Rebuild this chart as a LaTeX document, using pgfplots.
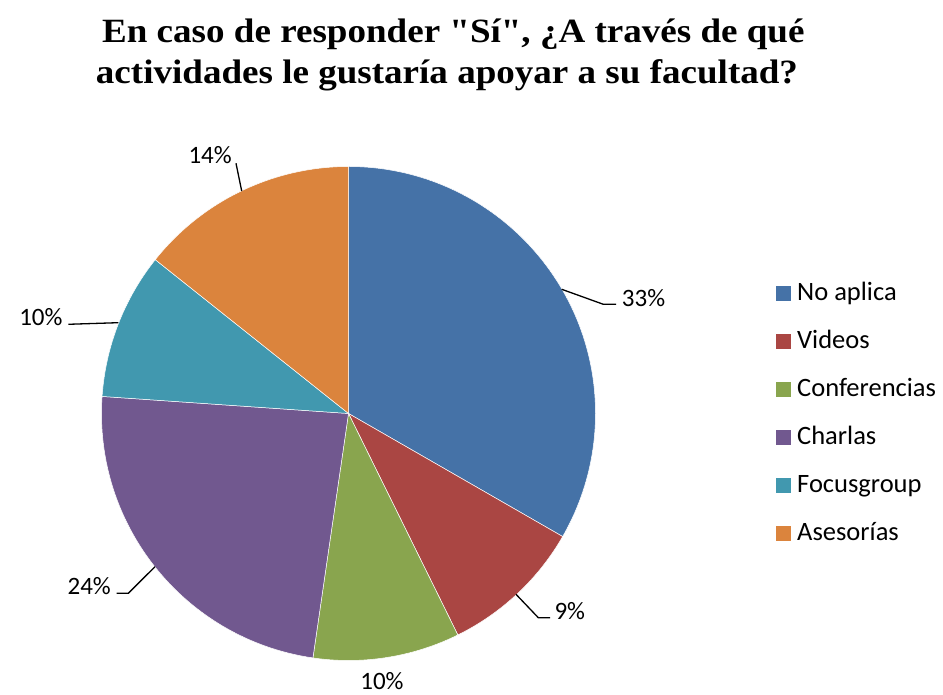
\documentclass[border=0pt]{standalone}
\usepackage{fontspec}
\setmainfont{Carlito}
\newfontfamily\titlefont{Liberation Serif}
\usepackage{pgfplots}
\usepackage{pgfplotstable}
\pgfplotsset{compat=1.18}

\definecolor{cNo}{HTML}{4572A7}
\definecolor{cVid}{HTML}{AA4643}
\definecolor{cConf}{HTML}{89A54E}
\definecolor{cCha}{HTML}{71588F}
\definecolor{cFoc}{HTML}{4198AF}
\definecolor{cAse}{HTML}{DB843D}

\pgfplotstableread[col sep=comma]{
label,value,color
No aplica,33.3,cNo
Videos,9.4,cVid
Conferencias,9.6,cConf
Charlas,23.8,cCha
Focusgroup,9.6,cFoc
Asesorías,14.3,cAse
}\piedata

\begin{document}
\begin{tikzpicture}
\useasboundingbox (0,0) rectangle (943pt,695pt);
\begin{axis}[
  at={(0,0)}, anchor=south west,
  scale only axis, width=943pt, height=695pt,
  xmin=0, xmax=943, ymin=0, ymax=695,
  hide axis, clip=false]
\pgfplotsextra{
  \pgfplotstablegetrowsof{\piedata}
  \pgfmathtruncatemacro\lastrow{\pgfplotsretval-1}
  \xdef\cumsum{0}
  \foreach \i in {0,...,\lastrow}{
    \pgfplotstablegetelem{\i}{value}\of\piedata \let\val\pgfplotsretval
    \pgfplotstablegetelem{\i}{color}\of\piedata \let\col\pgfplotsretval
    \pgfplotstablegetelem{\i}{label}\of\piedata \let\lab\pgfplotsretval
    \pgfmathsetmacro\sa{90-3.6*\cumsum}
    \pgfmathsetmacro\newcum{\cumsum+\val}
    \xdef\cumsum{\newcum}
    \pgfmathsetmacro\ea{90-3.6*\cumsum}
    \fill[fill=\col, draw=white, line width=0.5pt]
      (axis cs:348.5,281.5) -- ([shift={(\sa:247pt)}]axis cs:348.5,281.5)
      arc[start angle=\sa, end angle=\ea, radius=247pt] -- cycle;
    % legend
    \pgfmathsetmacro\ly{695-300.7-48*\i}
    \fill[\col] (axis cs:776,\ly) rectangle (axis cs:791,\ly+15);
    \node[anchor=base west, inner sep=0pt, font=\fontsize{26.5}{31}\selectfont]
      at (axis cs:797,\ly) {\lab};
  }
  % leader lines
  \draw[line width=1.3pt] (axis cs:561.7,405.7) -- (axis cs:603.3,390.7) -- (axis cs:616,390.7);
  \draw[line width=1.3pt] (axis cs:516,100.7) -- (axis cs:538.3,77.3) -- (axis cs:550,77.3);
  \draw[line width=1.3pt] (axis cs:155,128.3) -- (axis cs:128.3,101.7) -- (axis cs:116.7,101.7);
  \draw[line width=1.3pt] (axis cs:118.3,372.3) -- (axis cs:68.3,370.7);
  \draw[line width=1.3pt] (axis cs:241.7,504) -- (axis cs:236,531.7);
  % percentage labels
  \begingroup
  \tikzset{every node/.style={inner sep=0pt, font=\fontsize{25}{30}\selectfont}}
  \node[anchor=base west] at (axis cs:621.7,388.3) {33\%};
  \node[anchor=base west] at (axis cs:554.3,75.7) {9\%};
  \node[anchor=base] at (axis cs:382,5.5) {10\%};
  \node[anchor=base east] at (axis cs:111,100) {24\%};
  \node[anchor=base east] at (axis cs:62.7,369) {10\%};
  \node[anchor=base west] at (axis cs:188.3,531) {14\%};
  \endgroup
  % title
  \node[anchor=base, inner sep=0pt, font=\titlefont\bfseries\fontsize{34}{40}\selectfont]
    at (axis cs:453.4,652.3) {\scalebox{1.09}[1]{En caso de responder "Sí", ¿A través de qué}};
  \node[anchor=base, inner sep=0pt, font=\titlefont\bfseries\fontsize{34}{40}\selectfont]
    at (axis cs:447,611.5) {\scalebox{1.09}[1]{actividades le gustaría apoyar a su facultad?}};
}
\end{axis}
\end{tikzpicture}
\end{document}
